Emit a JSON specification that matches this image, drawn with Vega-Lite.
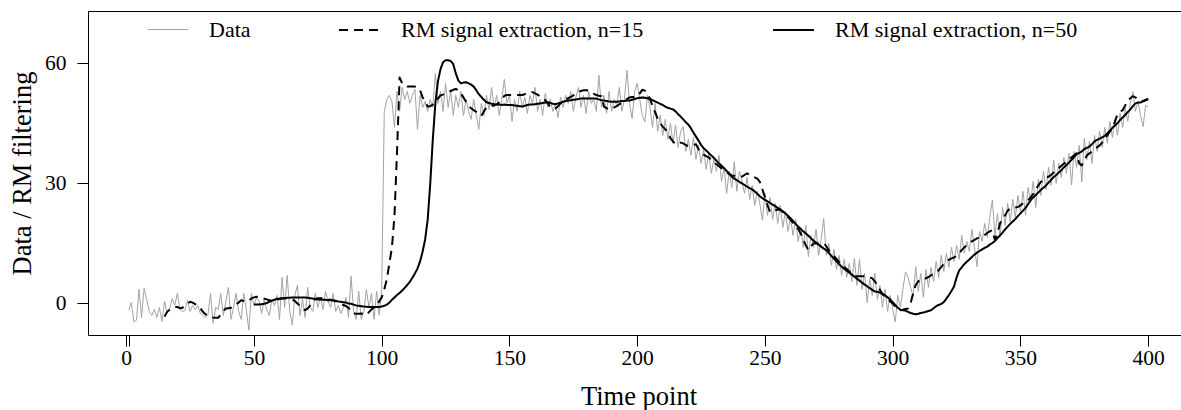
{
"$schema": "https://vega.github.io/schema/vega-lite/v6.json",
"width": 1093, "height": 324,
"autosize": "none",
"padding": {"left": 88, "top": 11, "right": 0, "bottom": 75},
"background": "white",
"config": {
 "view": {"stroke": null},
 "axis": {"labelFont": "Liberation Serif", "titleFont": "Liberation Serif", "labelColor": "black", "titleColor": "black", "domainColor": "black", "tickColor": "black", "grid": false, "labelFontSize": 21.5, "titleFontSize": 26.5, "titleFontWeight": "normal", "tickSize": 11, "domainWidth": 1, "tickWidth": 1, "labelFlush": false, "labelOverlap": false},
 "legend": {"labelFont": "Liberation Serif", "labelFontSize": 22, "labelColor": "black", "labelLimit": 500}
},
"data": {"values": [
{"t":1,"d":-1.7},{"t":2,"d":0.2},{"t":3,"d":-4.6},{"t":4,"d":-4.2},{"t":5,"d":3.5},{"t":6,"d":-3.6},{"t":7,"d":3.8},{"t":8,"d":1},{"t":9,"d":-2},{"t":10,"d":-3},
{"t":11,"d":-1.5},{"t":12,"d":-3.5},{"t":13,"d":-1},{"t":14,"d":-4.5},{"t":15,"d":0.5,"a":-3.3},{"t":16,"d":-2.5,"a":-2.1},{"t":17,"d":-1.3,"a":-1.6},{"t":18,"d":1.2,"a":-1.2},{"t":19,"d":-0.5,"a":-0.9},{"t":20,"d":2.5,"a":-0.9},
{"t":21,"d":-1.5,"a":-1.2},{"t":22,"d":-2,"a":-1.1},{"t":23,"d":-1.8,"a":-0.5},{"t":24,"d":0.8,"a":0},{"t":25,"d":-2,"a":0.4},{"t":26,"d":-0.5,"a":0.2},{"t":27,"d":-1.5,"a":-0.2},{"t":28,"d":-0.5,"a":-0.6},{"t":29,"d":-2.5,"a":-1.2},{"t":30,"d":-3,"a":-2.1},
{"t":31,"d":-3.5,"a":-2.7},{"t":32,"d":-2.8,"a":-3.1},{"t":33,"d":2.5,"a":-3.3},{"t":34,"d":-5,"a":-3.5},{"t":35,"d":-1,"a":-3.6},{"t":36,"d":-1.5,"a":-3.6},{"t":37,"d":2.5,"a":-2.8},{"t":38,"d":-3,"a":-1.9},{"t":39,"d":0.5,"a":-1.3},{"t":40,"d":4,"a":-1.2},
{"t":41,"d":-4,"a":-1.1},{"t":42,"d":-1,"a":-0.6},{"t":43,"d":2.5,"a":-0.2},{"t":44,"d":-2,"a":0.2},{"t":45,"d":-4,"a":0.8},{"t":46,"d":2.5,"a":0.6},{"t":47,"d":-1.5,"a":0.4},{"t":48,"d":-6.7,"a":0.7},{"t":49,"d":2.5,"a":1.25},{"t":50,"d":-0.5,"a":1.5,"b":-0.3},
{"t":51,"d":1.5,"a":1.65,"b":-0.3},{"t":52,"d":0.5,"a":1.5,"b":-0.3},{"t":53,"d":-2.5,"a":1.4,"b":-0.2},{"t":54,"d":1,"a":1.2,"b":-0.1},{"t":55,"d":-1.5,"a":1.0,"b":0.1},{"t":56,"d":-3,"a":0.8,"b":0.4},{"t":57,"d":1,"a":0.6,"b":0.7},{"t":58,"d":-0.5,"a":0.7,"b":0.9},{"t":59,"d":2,"a":0.9,"b":1.1},{"t":60,"d":-4,"a":1.1,"b":1.2},
{"t":61,"d":6.5,"a":1.2,"b":1.3},{"t":62,"d":-1,"a":1.3,"b":1.3},{"t":63,"d":7,"a":1.3,"b":1.4},{"t":64,"d":-2,"a":1.2,"b":1.4},{"t":65,"d":-5.4,"a":1.0,"b":1.5},{"t":66,"d":2,"a":0.6,"b":1.5},{"t":67,"d":4.5,"a":0,"b":1.5},{"t":68,"d":-3,"a":-0.6,"b":1.5},{"t":69,"d":1,"a":-1.3,"b":1.5},{"t":70,"d":-3.5,"a":-1.7,"b":1.5},
{"t":71,"d":4,"a":-1.3,"b":1.4},{"t":72,"d":-1,"a":-0.5,"b":1.3},{"t":73,"d":-2,"a":0.4,"b":1.2},{"t":74,"d":2.5,"a":1.1,"b":1.1},{"t":75,"d":-1,"a":1.3,"b":1.0},{"t":76,"d":1.5,"a":1.3,"b":1.0},{"t":77,"d":-1.5,"a":1.25,"b":0.9},{"t":78,"d":3,"a":1.1,"b":0.9},{"t":79,"d":0.5,"a":1.0,"b":0.8},{"t":80,"d":-1,"a":0.9,"b":0.8},
{"t":81,"d":2.5,"a":0.8,"b":0.7},{"t":82,"d":-2,"a":0.5,"b":0.65},{"t":83,"d":-0.5,"a":0.2,"b":0.5},{"t":84,"d":-2.5,"a":-0.1,"b":0.4},{"t":85,"d":-1,"a":-0.4,"b":0.3},{"t":86,"d":1.5,"a":-0.7,"b":0.2},{"t":87,"d":-3.5,"a":-1.1,"b":0},{"t":88,"d":6.8,"a":-1.8,"b":-0.1},{"t":89,"d":-2,"a":-2.5,"b":-0.3},{"t":90,"d":-4,"a":-2.6,"b":-0.5},
{"t":91,"d":3,"a":-2.6,"b":-0.6},{"t":92,"d":-4,"a":-2.5,"b":-0.7},{"t":93,"d":-2,"a":-2.6,"b":-0.8},{"t":94,"d":3.5,"a":-2.9,"b":-0.85},{"t":95,"d":-1,"a":-2.2,"b":-0.9},{"t":96,"d":2.5,"a":-1.5,"b":-0.9},{"t":97,"d":-4,"a":-1.0,"b":-0.9},{"t":98,"d":3,"a":-0.6,"b":-0.9},{"t":99,"d":-3,"a":0.5,"b":-0.9},{"t":100,"d":3.5,"a":1.5,"b":-0.8},
{"t":101,"d":48,"a":3.5,"b":-0.6},{"t":102,"d":51,"a":6,"b":-0.3},{"t":103,"d":52,"a":10,"b":0.2},{"t":104,"d":50.5,"a":14,"b":0.9},{"t":105,"d":44,"a":22,"b":1.5},{"t":106,"d":53,"a":38,"b":2.1},{"t":107,"d":48,"a":56.5,"b":2.6},{"t":108,"d":54,"a":55,"b":3.2},{"t":109,"d":51,"a":54.5,"b":3.9},{"t":110,"d":53,"a":54.2,"b":4.6},
{"t":111,"d":50,"a":54.2,"b":5.4},{"t":112,"d":52,"a":54.2,"b":6.4},{"t":113,"d":53.5,"a":54.2,"b":7.5},{"t":114,"d":43.5,"a":54,"b":8.7},{"t":115,"d":52,"a":53.3,"b":10.5},{"t":116,"d":49,"a":51.5,"b":12.9},{"t":117,"d":50.5,"a":50.4,"b":16},{"t":118,"d":48,"a":49.2,"b":21},{"t":119,"d":51,"a":49.3,"b":30},{"t":120,"d":49,"a":49.7,"b":41},
{"t":121,"d":57.5,"a":50.3,"b":50},{"t":122,"d":50,"a":51.2,"b":55.5},{"t":123,"d":53,"a":52,"b":58.5},{"t":124,"d":48,"a":52.2,"b":60.3},{"t":125,"d":55,"a":52.5,"b":60.8},{"t":126,"d":49,"a":52.8,"b":60.8},{"t":127,"d":53,"a":53.1,"b":60.6},{"t":128,"d":47,"a":53.4,"b":59.8},{"t":129,"d":52,"a":53.6,"b":57.5},{"t":130,"d":49,"a":53.3,"b":55.7},
{"t":131,"d":53,"a":52.5,"b":55},{"t":132,"d":47,"a":51.5,"b":55.2},{"t":133,"d":51,"a":50.4,"b":55.3},{"t":134,"d":48,"a":49.3,"b":55},{"t":135,"d":46,"a":48.8,"b":54.7},{"t":136,"d":51,"a":48.3,"b":54.2},{"t":137,"d":47,"a":47.9,"b":53.3},{"t":138,"d":43.5,"a":47.2,"b":52.3},{"t":139,"d":50,"a":46.9,"b":51.6},{"t":140,"d":47,"a":48,"b":50.9},
{"t":141,"d":52,"a":49,"b":50.3},{"t":142,"d":48.5,"a":49.3,"b":50.1},{"t":143,"d":54,"a":49.4,"b":49.9},{"t":144,"d":49,"a":49.5,"b":49.8},{"t":145,"d":52,"a":49.7,"b":49.7},{"t":146,"d":47,"a":50.3,"b":49.7},{"t":147,"d":51,"a":51,"b":49.6},{"t":148,"d":56,"a":51.9,"b":49.7},{"t":149,"d":50,"a":52.1,"b":49.6},{"t":150,"d":52,"a":52.1,"b":49.6},
{"t":151,"d":45.5,"a":52.1,"b":49.6},{"t":152,"d":51,"a":52.1,"b":49.5},{"t":153,"d":48,"a":52.1,"b":49.4},{"t":154,"d":53,"a":52.1,"b":49.3},{"t":155,"d":49,"a":52.1,"b":49.2},{"t":156,"d":51.5,"a":52.3,"b":49.4},{"t":157,"d":47.5,"a":52.6,"b":49.6},{"t":158,"d":52,"a":52.9,"b":49.7},{"t":159,"d":50,"a":52.8,"b":49.7},{"t":160,"d":54,"a":52.5,"b":49.8},
{"t":161,"d":48,"a":52.2,"b":49.9},{"t":162,"d":51,"a":51.7,"b":50},{"t":163,"d":47,"a":51.2,"b":50.1},{"t":164,"d":52.5,"a":50.8,"b":50.2},{"t":165,"d":49,"a":50,"b":50.3},{"t":166,"d":51,"a":49,"b":50.1},{"t":167,"d":48,"a":48.7,"b":49.9},{"t":168,"d":50,"a":48.7,"b":49.8},{"t":169,"d":46.5,"a":49.3,"b":50},{"t":170,"d":51.5,"a":50,"b":50.2},
{"t":171,"d":49,"a":50.5,"b":50.4},{"t":172,"d":52,"a":51,"b":50.6},{"t":173,"d":50,"a":51.3,"b":50.7},{"t":174,"d":53,"a":51.6,"b":50.8},{"t":175,"d":48,"a":52,"b":50.9},{"t":176,"d":51.5,"a":52.5,"b":51},{"t":177,"d":54,"a":52.9,"b":51.1},{"t":178,"d":49,"a":53.1,"b":51.2},{"t":179,"d":52,"a":53.3,"b":51.2},{"t":180,"d":47.5,"a":53.3,"b":51.2},
{"t":181,"d":53,"a":53.2,"b":51.2},{"t":182,"d":50,"a":52.9,"b":51.2},{"t":183,"d":51,"a":52.4,"b":51.2},{"t":184,"d":48,"a":52.1,"b":51.2},{"t":185,"d":57,"a":51.9,"b":51},{"t":186,"d":49,"a":51.8,"b":50.8},{"t":187,"d":52,"a":49.2,"b":50.7},{"t":188,"d":47.5,"a":48.8,"b":50.6},{"t":189,"d":53,"a":48.5,"b":50.5},{"t":190,"d":48,"a":48.7,"b":50.4},
{"t":191,"d":51,"a":49,"b":50.4},{"t":192,"d":49.5,"a":49.3,"b":50.4},{"t":193,"d":54,"a":49.8,"b":50.5},{"t":194,"d":48,"a":50.1,"b":50.6},{"t":195,"d":51,"a":50.6,"b":50.6},{"t":196,"d":58.3,"a":51.1,"b":50.7},{"t":197,"d":50,"a":51.5,"b":50.7},{"t":198,"d":46.2,"a":51.6,"b":50.9},{"t":199,"d":53,"a":51.6,"b":51.1},{"t":200,"d":55,"a":51.8,"b":51.3},
{"t":201,"d":51,"a":52.5,"b":51.4},{"t":202,"d":47,"a":53.4,"b":51.5},{"t":203,"d":45.4,"a":53.2,"b":51.4},{"t":204,"d":52,"a":52.3,"b":51.3},{"t":205,"d":49,"a":51.2,"b":51.1},{"t":206,"d":44,"a":49.3,"b":50.8},{"t":207,"d":50,"a":47.8,"b":50.5},{"t":208,"d":43,"a":46.2,"b":50.2},{"t":209,"d":47,"a":45,"b":49.9},{"t":210,"d":42,"a":44.2,"b":49.6},
{"t":211,"d":46,"a":43.5,"b":49.2},{"t":212,"d":41,"a":42.9,"b":48.9},{"t":213,"d":45,"a":41.3,"b":48.7},{"t":214,"d":40,"a":40.5,"b":48.5},{"t":215,"d":44.5,"a":39.8,"b":48},{"t":216,"d":39,"a":40,"b":47.3},{"t":217,"d":43,"a":40.2,"b":46.7},{"t":218,"d":44.2,"a":40,"b":46},{"t":219,"d":38,"a":39.6,"b":45.3},{"t":220,"d":41,"a":39.3,"b":44.7},
{"t":221,"d":37,"a":39.4,"b":43.8},{"t":222,"d":41.5,"a":39.6,"b":42.7},{"t":223,"d":36,"a":39.8,"b":41.7},{"t":224,"d":39.5,"a":38.5,"b":40.7},{"t":225,"d":35,"a":37.6,"b":39.6},{"t":226,"d":38.5,"a":37.2,"b":38.8},{"t":227,"d":33.5,"a":36.8,"b":38.2},{"t":228,"d":37.5,"a":36.5,"b":37.6},{"t":229,"d":32.5,"a":35.9,"b":37},{"t":230,"d":36,"a":35.4,"b":36.4},
{"t":231,"d":33,"a":34.8,"b":35.7},{"t":232,"d":37,"a":34.3,"b":35},{"t":233,"d":30.5,"a":33.8,"b":34.4},{"t":234,"d":34,"a":33.3,"b":33.8},{"t":235,"d":27.5,"a":32.8,"b":33.1},{"t":236,"d":33,"a":32.3,"b":32.5},{"t":237,"d":29,"a":32,"b":31.7},{"t":238,"d":35.4,"a":31.9,"b":31.2},{"t":239,"d":28,"a":31.8,"b":30.8},{"t":240,"d":33,"a":31.7,"b":30.4},
{"t":241,"d":30.5,"a":31.7,"b":30},{"t":242,"d":27.5,"a":32.1,"b":29.6},{"t":243,"d":31.5,"a":32.5,"b":29.2},{"t":244,"d":26,"a":32.2,"b":28.8},{"t":245,"d":29.5,"a":31.8,"b":28.5},{"t":246,"d":24.5,"a":31.5,"b":28},{"t":247,"d":28,"a":31.2,"b":27.4},{"t":248,"d":25,"a":30.4,"b":26.8},{"t":249,"d":20.8,"a":28.5,"b":26.3},{"t":250,"d":27.5,"a":26.5,"b":25.9},
{"t":251,"d":22,"a":24.5,"b":25.5},{"t":252,"d":26.5,"a":22.9,"b":25.1},{"t":253,"d":21,"a":22.8,"b":24.7},{"t":254,"d":25,"a":23.2,"b":24.3},{"t":255,"d":20,"a":23.5,"b":23.9},{"t":256,"d":24.5,"a":23.4,"b":23.5},{"t":257,"d":19,"a":22.8,"b":23},{"t":258,"d":23,"a":22.1,"b":22.5},{"t":259,"d":18,"a":21.6,"b":21.9},{"t":260,"d":21.5,"a":20.9,"b":21.3},
{"t":261,"d":17,"a":20.1,"b":20.6},{"t":262,"d":21,"a":19.3,"b":19.9},{"t":263,"d":15.5,"a":18.6,"b":19.2},{"t":264,"d":19,"a":17.5,"b":18.6},{"t":265,"d":14,"a":16,"b":18},{"t":266,"d":19.5,"a":14.5,"b":17.5},{"t":267,"d":11.7,"a":13.3,"b":16.9},{"t":268,"d":17,"a":14.2,"b":16.3},{"t":269,"d":14,"a":15,"b":15.7},{"t":270,"d":18.5,"a":15,"b":15.2},
{"t":271,"d":12,"a":15,"b":14.7},{"t":272,"d":16,"a":15,"b":14.2},{"t":273,"d":21.25,"a":15,"b":13.7},{"t":274,"d":12,"a":14.3,"b":13.3},{"t":275,"d":15,"a":13.3,"b":12.6},{"t":276,"d":9.5,"a":12.3,"b":11.9},{"t":277,"d":13.5,"a":11.8,"b":11.2},{"t":278,"d":8.5,"a":11.1,"b":10.5},{"t":279,"d":12,"a":10.4,"b":9.8},{"t":280,"d":7,"a":9.7,"b":9.2},
{"t":281,"d":11,"a":9.1,"b":8.7},{"t":282,"d":6.5,"a":8.6,"b":8.2},{"t":283,"d":10,"a":8,"b":7.7},{"t":284,"d":5.5,"a":7.2,"b":7.2},{"t":285,"d":11.25,"a":6.8,"b":6.7},{"t":286,"d":4.5,"a":6.8,"b":6.2},{"t":287,"d":11,"a":6.8,"b":5.7},{"t":288,"d":3.5,"a":6.8,"b":5.2},{"t":289,"d":7.5,"a":6.8,"b":4.7},{"t":290,"d":0.2,"a":6.7,"b":4.3},
{"t":291,"d":6,"a":6.5,"b":3.8},{"t":292,"d":2,"a":6.25,"b":3.4},{"t":293,"d":7.5,"a":5.5,"b":3.0},{"t":294,"d":1,"a":4.6,"b":2.9},{"t":295,"d":4.5,"a":3.4,"b":2.7},{"t":296,"d":-1,"a":2.3,"b":2.4},{"t":297,"d":3.5,"a":1.7,"b":2.0},{"t":298,"d":-2,"a":1.1,"b":1.5},{"t":299,"d":2,"a":0.5,"b":1.0},{"t":300,"d":-1.5,"a":0,"b":0.3},
{"t":301,"d":-4.6,"a":-0.9,"b":-0.4},{"t":302,"d":2,"a":-1.3,"b":-1.1},{"t":303,"d":-1,"a":-1.7,"b":-1.6},{"t":304,"d":3.5,"a":-1.6,"b":-1.7},{"t":305,"d":7.9,"a":-1.4,"b":-1.8},{"t":306,"d":6.5,"a":-1.3,"b":-2.1},{"t":307,"d":4,"a":0,"b":-2.4},{"t":308,"d":1.7,"a":2.5,"b":-2.6},{"t":309,"d":9.2,"a":4.6,"b":-2.7},{"t":310,"d":3,"a":5.5,"b":-2.6},
{"t":311,"d":7.5,"a":6.1,"b":-2.4},{"t":312,"d":1.5,"a":6.25,"b":-2.3},{"t":313,"d":8.5,"a":6.25,"b":-2.1},{"t":314,"d":4,"a":6.6,"b":-1.9},{"t":315,"d":9,"a":7,"b":-1.7},{"t":316,"d":5.5,"a":7.4,"b":-1.2},{"t":317,"d":10.5,"a":7.8,"b":-0.7},{"t":318,"d":6.5,"a":8.3,"b":-0.4},{"t":319,"d":12,"a":9.1,"b":-0.1},{"t":320,"d":8,"a":9.9,"b":0.3},
{"t":321,"d":12.5,"a":10.4,"b":1.2},{"t":322,"d":9,"a":10.9,"b":2.1},{"t":323,"d":14,"a":11.25,"b":3.1},{"t":324,"d":10.5,"a":11.5,"b":4.2},{"t":325,"d":14.5,"a":11.8,"b":6.5},{"t":326,"d":11,"a":12.5,"b":8.2},{"t":327,"d":17,"a":13.3,"b":9.0},{"t":328,"d":12.5,"a":14,"b":9.8},{"t":329,"d":15.5,"a":14.5,"b":10.4},{"t":330,"d":13,"a":15,"b":11},
{"t":331,"d":18.5,"a":15.5,"b":11.6},{"t":332,"d":14,"a":15.9,"b":12.2},{"t":333,"d":9.2,"a":16.25,"b":12.7},{"t":334,"d":18,"a":16.5,"b":13.1},{"t":335,"d":15.5,"a":16.65,"b":13.5},{"t":336,"d":20,"a":17.1,"b":13.9},{"t":337,"d":16.5,"a":17.6,"b":14.2},{"t":338,"d":21.5,"a":18,"b":14.7},{"t":339,"d":25.8,"a":18.3,"b":15.1},{"t":340,"d":17,"a":15.9,"b":15.6},
{"t":341,"d":22.5,"a":17.5,"b":16.3},{"t":342,"d":16.5,"a":20,"b":17},{"t":343,"d":24,"a":21.2,"b":17.7},{"t":344,"d":19.5,"a":22,"b":18.5},{"t":345,"d":25,"a":23.2,"b":19.2},{"t":346,"d":20.5,"a":23.7,"b":19.9},{"t":347,"d":26,"a":23.9,"b":20.5},{"t":348,"d":21.5,"a":24,"b":21.1},{"t":349,"d":27,"a":24.1,"b":21.8},{"t":350,"d":23,"a":24.5,"b":22.5},
{"t":351,"d":28,"a":25,"b":23.2},{"t":352,"d":22,"a":25.4,"b":23.9},{"t":353,"d":29,"a":25.8,"b":24.8},{"t":354,"d":25.5,"a":26.5,"b":25.8},{"t":355,"d":30.5,"a":27.4,"b":26.5},{"t":356,"d":24,"a":28.5,"b":27.1},{"t":357,"d":31,"a":29.5,"b":27.7},{"t":358,"d":27,"a":30.4,"b":28.4},{"t":359,"d":33,"a":30.8,"b":28.9},{"t":360,"d":28.5,"a":31.3,"b":29.5},
{"t":361,"d":34,"a":31.7,"b":30.2},{"t":362,"d":29.5,"a":32.1,"b":30.9},{"t":363,"d":35.8,"a":32.7,"b":31.6},{"t":364,"d":30,"a":33.3,"b":32.1},{"t":365,"d":35,"a":33.8,"b":32.7},{"t":366,"d":31.5,"a":34.4,"b":33.3},{"t":367,"d":36.5,"a":34.9,"b":34},{"t":368,"d":32.5,"a":35.4,"b":34.6},{"t":369,"d":37.5,"a":36,"b":35.2},{"t":370,"d":29.6,"a":36.5,"b":35.9},
{"t":371,"d":38,"a":37,"b":36.6},{"t":372,"d":34,"a":37.5,"b":37.3},{"t":373,"d":39.5,"a":35,"b":37.6},{"t":374,"d":30.4,"a":34.5,"b":38},{"t":375,"d":41.2,"a":35.8,"b":38.6},{"t":376,"d":36,"a":37,"b":38.9},{"t":377,"d":40.5,"a":37.5,"b":39.2},{"t":378,"d":35,"a":37.9,"b":39.8},{"t":379,"d":42,"a":38.5,"b":40.5},{"t":380,"d":38,"a":39,"b":40.9},
{"t":381,"d":43,"a":39.5,"b":41.2},{"t":382,"d":39,"a":40.2,"b":41.5},{"t":383,"d":44,"a":41,"b":41.9},{"t":384,"d":40,"a":42,"b":42.5},{"t":385,"d":45.5,"a":43,"b":43.2},{"t":386,"d":41.5,"a":44,"b":43.9},{"t":387,"d":46,"a":45.5,"b":44.5},{"t":388,"d":42,"a":47.3,"b":45.1},{"t":389,"d":47.5,"a":47.9,"b":45.8},{"t":390,"d":44,"a":48.3,"b":46.5},
{"t":391,"d":49,"a":49.5,"b":47.1},{"t":392,"d":45.5,"a":50.8,"b":47.8},{"t":393,"d":50,"a":51.3,"b":48.5},{"t":394,"d":52.9,"a":51.8,"b":49.3},{"t":395,"d":48,"a":51.5,"b":50},{"t":396,"d":50.5,"a":51,"b":50.2},{"t":397,"d":47,"a":50.6,"b":50.2},{"t":398,"d":44.2,"a":50.6,"b":50.5},{"t":399,"d":49.5,"a":50.8,"b":50.9},{"t":400,"d":49.2,"a":51,"b":51.2}
]},
"resolve": {"scale": {"color": "independent"}, "axis": {"x": "independent", "y": "independent"}},
"layer": [
 {
  "transform": [{"filter": "isValid(datum.d)"}],
  "mark": {"type": "line", "strokeWidth": 1, "strokeJoin": "round"},
  "encoding": {
   "x": {"field": "t", "type": "quantitative", "scale": {"domain": [-14.96, 412.84], "nice": false, "zero": false},
     "axis": {"orient": "bottom", "values": [0, 1, 50, 100, 150, 200, 250, 300, 350, 400], "labelExpr": "datum.value == 1 ? '' : datum.label", "title": "Time point", "labelBaseline": "alphabetic", "labelPadding": 18.5, "titleBaseline": "alphabetic", "titleY": 69.5, "titleX": 550.5}},
   "y": {"field": "d", "type": "quantitative", "scale": {"domain": [-7.9, 73.1], "nice": false, "zero": false},
     "axis": {"orient": "left", "values": [0, 30, 60], "title": "Data / RM filtering", "labelPadding": 11, "titleBaseline": "alphabetic", "titleX": -58, "titleY": 162, "titleAngle": -90}},
   "color": {"datum": "Data", "type": "nominal", "scale": {"range": ["#a3a3a3"]},
     "legend": {"orient": "none", "legendX": 59, "legendY": -2.5, "title": null, "symbolType": "stroke", "symbolSize": 1681, "symbolStrokeWidth": 1, "labelOffset": 20, "padding": 0}}
  }
 },
 {
  "transform": [{"filter": "isValid(datum.a)"}],
  "mark": {"type": "line", "strokeWidth": 2, "strokeDash": [9, 6], "strokeJoin": "round"},
  "encoding": {
   "x": {"field": "t", "type": "quantitative", "axis": {"orient": "top", "labels": false, "ticks": false, "title": null, "domain": true}},
   "y": {"field": "a", "type": "quantitative", "axis": null},
   "color": {"datum": "RM signal extraction, n=15", "type": "nominal", "scale": {"range": ["black"]},
     "legend": {"orient": "none", "legendX": 250, "legendY": -2.5, "title": null, "symbolType": "stroke", "symbolSize": 1681, "symbolStrokeWidth": 2, "symbolDash": [9, 6], "labelOffset": 20, "padding": 0}}
  }
 },
 {
  "transform": [{"filter": "isValid(datum.b)"}],
  "mark": {"type": "line", "strokeWidth": 2, "strokeJoin": "round"},
  "encoding": {
   "x": {"field": "t", "type": "quantitative", "axis": null},
   "y": {"field": "b", "type": "quantitative", "axis": null},
   "color": {"datum": "RM signal extraction, n=50", "type": "nominal", "scale": {"range": ["black"]},
     "legend": {"orient": "none", "legendX": 684, "legendY": -2.5, "title": null, "symbolType": "stroke", "symbolSize": 1681, "symbolStrokeWidth": 2, "labelOffset": 20, "padding": 0}}
  }
 }
]
}
